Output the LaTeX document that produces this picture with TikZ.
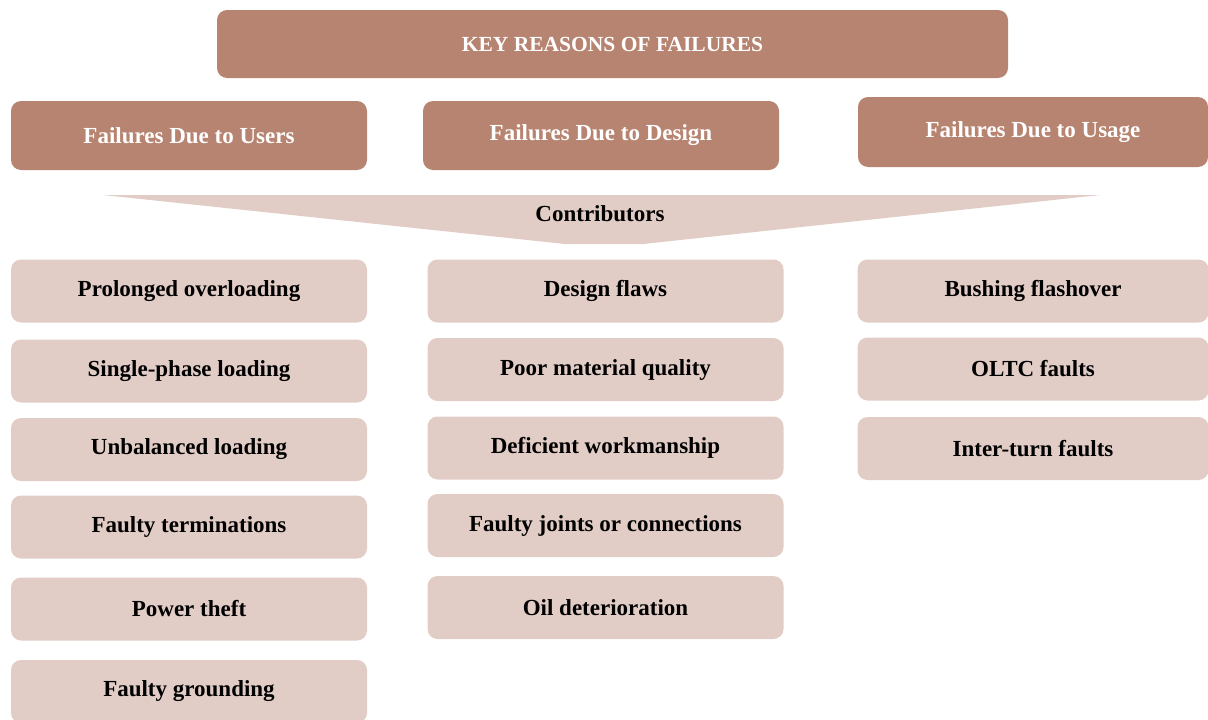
\documentclass[tikz,border=0pt]{standalone}
\usepackage{fontspec}
\setmainfont{Liberation Serif}
\usepackage{tikz}
\newcommand{\unitsize}{1pt}
\definecolor{headbrown}{HTML}{B78471}
\definecolor{itempink}{HTML}{E2CDC6}

\begin{document}
\begin{tikzpicture}
\useasboundingbox (0,0) rectangle (1208*\unitsize,-720*\unitsize);
\tikzstyle{every node}=[font=\fontsize{23}{27}\selectfont\bfseries,
			inner sep=0pt,
			rounded corners=10*\unitsize
			]
\tikzstyle{headbox}=[fill=headbrown, text=white, minimum height=69*\unitsize]
\tikzstyle{itembox}=[fill=itempink, text=black, minimum width=356*\unitsize, minimum height=63*\unitsize]

% title
\node[headbox, minimum width=791*\unitsize, minimum height=68*\unitsize, font=\fontsize{21.5}{25}\selectfont\bfseries] (title) at (612.5*\unitsize,-44*\unitsize) {KEY REASONS OF FAILURES};

% three groups
\node[headbox, minimum width=356*\unitsize] (users) at (189*\unitsize,-135.5*\unitsize) {Failures Due to Users};

\node[headbox, minimum width=356*\unitsize] (design) at (601*\unitsize,-135.5*\unitsize) {Failures Due to Design};

\node[headbox, minimum width=350*\unitsize, minimum height=70*\unitsize] (usage) at (1033*\unitsize,-132*\unitsize) {Failures Due to Usage};

% contributors banner
\fill[itempink] (103*\unitsize,-195*\unitsize) -- (1100*\unitsize,-195*\unitsize) -- (643*\unitsize,-244*\unitsize) -- (565*\unitsize,-244*\unitsize) -- cycle;
\node (contrib) at (600*\unitsize,-214*\unitsize) {Contributors};

% users column
\node[itembox] (users1) at (189*\unitsize,-291*\unitsize) {Prolonged overloading};

\node[itembox] (users2) at (189*\unitsize,-371*\unitsize) {Single-phase loading};

\node[itembox] (users3) at (189*\unitsize,-449.5*\unitsize) {Unbalanced loading};

\node[itembox] (users4) at (189*\unitsize,-527*\unitsize) {Faulty terminations};

\node[itembox] (users5) at (189*\unitsize,-609*\unitsize) {Power theft};

\node[itembox] (users6) at (189*\unitsize,-691.5*\unitsize) {Faulty grounding};

% design column
\node[itembox] (design1) at (605.5*\unitsize,-291*\unitsize) {Design flaws};

\node[itembox] (design2) at (605.5*\unitsize,-369.5*\unitsize) {Poor material quality};

\node[itembox] (design3) at (605.5*\unitsize,-448*\unitsize) {Deficient workmanship};

\node[itembox] (design4) at (605.5*\unitsize,-525.5*\unitsize) {Faulty joints or connections};

\node[itembox] (design5) at (605.5*\unitsize,-607.5*\unitsize) {Oil deterioration};

% usage column
\node[itembox, minimum width=351*\unitsize] (usage1) at (1033*\unitsize,-291*\unitsize) {Bushing flashover};

\node[itembox, minimum width=351*\unitsize] (usage2) at (1033*\unitsize,-369*\unitsize) {OLTC faults};

\node[itembox, minimum width=351*\unitsize] (usage3) at (1033*\unitsize,-448.5*\unitsize) {Inter-turn faults};

\end{tikzpicture}
\end{document}
